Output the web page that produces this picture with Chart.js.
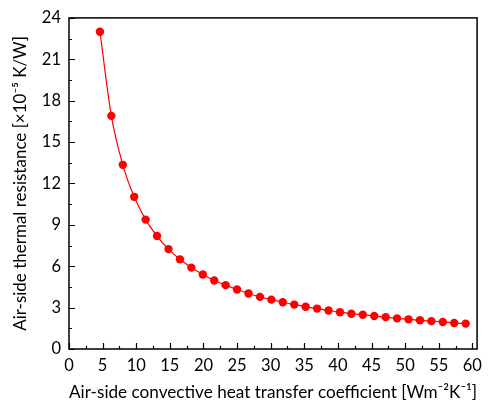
<!DOCTYPE html>
<html>
<head>
<meta charset="utf-8">
<script src="https://cdn.jsdelivr.net/npm/chart.js@4/dist/chart.umd.min.js"></script>
<style>
  html, body { margin: 0; padding: 0; background: #fff; }
  #wrap { width: 489px; height: 403px; position: relative; }
</style>
</head>
<body>
<div id="wrap"><canvas id="c" width="489" height="403"></canvas></div>
<script>
// Air-side convective heat transfer coefficient [W m^-2 K^-1]
const hValues = [4.6, 6.3, 8.0, 9.7, 11.4, 13.1, 14.8, 16.5, 18.2, 19.9, 21.6, 23.3, 25.0, 26.7, 28.4, 30.1, 31.8, 33.5, 35.2, 36.9, 38.6, 40.3, 42.0, 43.7, 45.4, 47.1, 48.8, 50.5, 52.2, 53.9, 55.6, 57.3, 59.0];
// Air-side thermal resistance [x10^-5 K/W]
const resistance = [23.0, 16.9, 13.35, 11.03, 9.38, 8.19, 7.24, 6.50, 5.90, 5.40, 4.97, 4.63, 4.31, 4.02, 3.78, 3.58, 3.39, 3.22, 3.06, 2.93, 2.79, 2.67, 2.56, 2.48, 2.39, 2.31, 2.22, 2.15, 2.08, 2.02, 1.96, 1.89, 1.84];
const xTickStep = 5;
const yTickStep = 3;
const xTitle = 'Air-side convective heat transfer coefficient [Wm\u207B\u00B2K\u207B\u00B9]';
const yTitle = 'Air-side thermal resistance [\u00D710\u207B\u2075 K/W]';

const points = hValues.map((h, i) => ({ x: h, y: resistance[i] }));
const FONT = 'Lato, "Open Sans", sans-serif';

const frameAndTicks = {
  id: 'frameAndTicks',
  afterDraw(chart) {
    const { ctx, chartArea: a, scales } = chart;
    const xs = scales.x, ys = scales.y;
    ctx.save();
    ctx.strokeStyle = '#000';
    ctx.lineWidth = 1.5;
    ctx.strokeRect(a.left, a.top, a.right - a.left, a.bottom - a.top);
    ctx.lineWidth = 1.2;
    ctx.beginPath();
    for (let v = 0; v <= 60 + 1e-9; v += xTickStep / 2) {
      const px = Math.round(xs.getPixelForValue(v)) + 0.5;
      const major = Math.abs(v / xTickStep - Math.round(v / xTickStep)) < 1e-6;
      const len = major ? 6 : 3;
      ctx.moveTo(px, a.bottom);
      ctx.lineTo(px, a.bottom - len);
    }
    for (let v = 0; v <= 24 + 1e-9; v += yTickStep / 2) {
      const py = Math.round(ys.getPixelForValue(v)) + 0.5;
      const major = Math.abs(v / yTickStep - Math.round(v / yTickStep)) < 1e-6;
      const len = major ? 6 : 3;
      ctx.moveTo(a.left, py);
      ctx.lineTo(a.left + len, py);
    }
    ctx.stroke();
    ctx.restore();
  }
};

new Chart(document.getElementById('c'), {
  type: 'line',
  data: {
    datasets: [{
      data: points,
      borderColor: '#ff0000',
      backgroundColor: '#ff0000',
      borderWidth: 1.2,
      cubicInterpolationMode: 'monotone',
      pointRadius: 4.2,
      pointHoverRadius: 4.2,
      pointBorderWidth: 0,
      pointBackgroundColor: '#ff0000',
      fill: false,
      clip: false
    }]
  },
  options: {
    responsive: false,
    animation: false,
    devicePixelRatio: 1,
    layout: { padding: { top: 14, right: 5, left: 0, bottom: 0 } },
    plugins: { legend: { display: false }, tooltip: { enabled: false } },
    scales: {
      x: {
        type: 'linear',
        min: 0,
        max: 60.7,
        grid: { display: false, drawTicks: false },
        border: { display: false },
        ticks: { stepSize: xTickStep, includeBounds: false, color: '#000', font: { family: FONT, size: 16.5 }, padding: 7, maxRotation: 0 },
        title: { display: true, text: xTitle, color: '#000', font: { family: FONT, size: 17.2 }, padding: { top: 1, bottom: 0 } },
        afterFit(s) { s.height = 54; }
      },
      y: {
        type: 'linear',
        min: 0,
        max: 24,
        grid: { display: false, drawTicks: false },
        border: { display: false },
        ticks: { stepSize: yTickStep, color: '#000', font: { family: FONT, size: 16.5 }, padding: 8 },
        title: { display: true, text: yTitle, color: '#000', font: { family: FONT, size: 17 }, padding: { top: 10, bottom: 0 } },
        afterFit(s) { s.width = 69; }
      }
    }
  },
  plugins: [frameAndTicks]
});
</script>
</body>
</html>
